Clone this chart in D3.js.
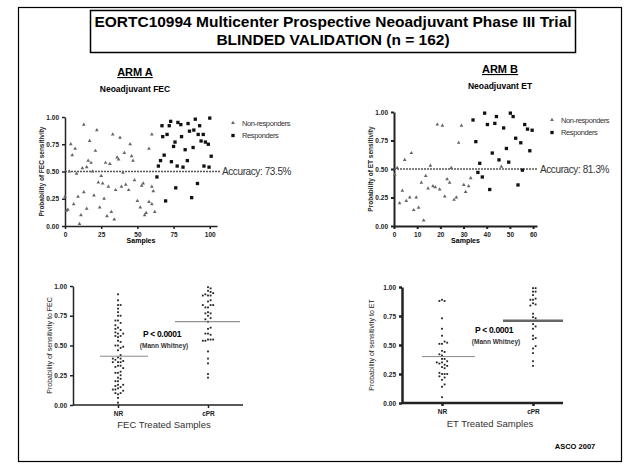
<!DOCTYPE html>
<html>
<head>
<meta charset="utf-8">
<style>
  body { margin: 0; background: #fff; }
  svg { display: block; font-family: "Liberation Sans", Arial, sans-serif; }
  .axis path, .axis line { stroke: #222; }
  .axis text { font-size: 6.5px; fill: #222; font-weight: bold; }
</style>
</head>
<body>
<div id="chart"></div>
<script src="https://cdn.jsdelivr.net/npm/d3@7"></script>
<script>
// ARM A (FEC) - sample index and probability
const aNrSample = [13, 4, 5, 7, 17, 22, 21, 16, 18, 15, 12, 3, 8, 19, 28, 31, 33, 38, 36, 37, 41, 45, 46, 47, 40,
  25, 23, 26, 30, 35, 39, 42, 44, 48, 53, 54, 60, 61, 58, 60, 1, 2, 6, 9, 13, 15, 20, 24, 27, 29, 32, 34, 11, 10,
  50, 52, 55, 56, 58, 60, 62, 0];
const aNrProb = [0.93, 0.75, 0.65, 0.71, 0.78, 0.88, 0.69, 0.60, 0.58, 0.54, 0.53, 0.50, 0.48, 0.50, 0.58, 0.57,
  0.84, 0.81, 0.63, 0.61, 0.67, 0.75, 0.64, 0.60, 0.49, 0.46, 0.40, 0.39, 0.36, 0.33, 0.36, 0.38, 0.33, 0.42,
  0.37, 0.39, 0.36, 0.32, 0.71, 0.84, 0.14, 0.15, 0.20, 0.27, 0.31, 0.16, 0.28, 0.17, 0.25, 0.09, 0.13, 0.06,
  0.10, 0.02, 0.23, 0.17, 0.10, 0.12, 0.22, 0.20, 0.13, 0.27];
const aRSample = [67, 72, 73, 78, 80, 85, 90, 93, 100, 67.5, 70.5, 80.5, 86, 89, 92, 95.5, 94, 97, 99, 76, 75,
  83, 88.5, 101, 68.5, 66, 73.5, 84.5, 64.5, 77.5, 81.5, 96, 99.5, 63.5, 76.5, 91.5, 69.5, 87.5];
const aRProb = [0.92, 0.92, 0.96, 0.95, 0.93, 0.94, 0.98, 0.92, 0.99, 0.82, 0.84, 0.82, 0.87, 0.88, 0.84, 0.84,
  0.78, 0.77, 0.75, 0.77, 0.73, 0.70, 0.72, 0.64, 0.65, 0.60, 0.59, 0.60, 0.55, 0.55, 0.54, 0.55, 0.54, 0.45,
  0.35, 0.39, 0.23, 0.26];

// ARM B (ET)
const bNrSample = [0.3, 1.4, 2.4, 3.6, 4.6, 5.3, 6.8, 7.5, 8.5, 9.6, 10.6, 11.8, 12.8, 13.7, 14.7, 15.7, 16.8,
  17.8, 18.7, 19.7, 20.9, 21.9, 22.9, 24, 24.7, 25.9, 26.9, 27.9, 29.1, 30.1, 30.9, 32.2, 33.1, 46.3];
const bNrProb = [0.45, 0.51, 0.20, 0.31, 0.58, 0.22, 0.25, 0.64, 0.14, 0.25, 0.16, 0.38, 0.05, 0.44, 0.33, 0.53,
  0.35, 0.34, 0.89, 0.32, 0.88, 0.26, 0.41, 0.38, 0.51, 0.23, 0.25, 0.73, 0.88, 0.36, 0.30, 0.35, 0.42, 0.52];
const bRSample = [34.1, 35.3, 37, 36.2, 38.1, 39.1, 40.3, 41.3, 42.4, 43.5, 44.2, 45.3, 47.3, 48.5, 49.5, 50.2,
  51.4, 52.5, 53.5, 54.7, 55.4, 56.4, 57.6, 58.6, 59.6];
const bRProb = [0.93, 0.74, 0.55, 0.47, 0.43, 0.99, 0.89, 0.32, 0.64, 0.90, 0.96, 0.58, 0.86, 0.68, 0.56, 0.99,
  0.96, 0.77, 0.36, 0.73, 0.49, 0.89, 0.85, 0.66, 0.84];

const groups = ["NR", "cPR"];
const aMeans = [0.41, 0.70];
const bMeans = [0.40, 0.71];
const probTicks = [0, 0.25, 0.5, 0.75, 1];
const aSampleTicks = [0, 25, 50, 75, 100];
const bSampleTicks = [0, 10, 20, 30, 40, 50, 60];
const accuracy = ["Accuracy: 73.5%", "Accuracy: 81.3%"];

const W = 641, H = 471;
const svg = d3.select("#chart").append("svg").attr("width", W).attr("height", H);
svg.append("rect").attr("width", W).attr("height", H).attr("fill", "#fff");

// slide frame and title box
svg.append("rect").attr("x", 18.5).attr("y", 7.5).attr("width", 603).attr("height", 454)
  .attr("fill", "none").attr("stroke", "#000").attr("stroke-width", 1.2);
svg.append("rect").attr("x", 90.5).attr("y", 10.5).attr("width", 485).attr("height", 42)
  .attr("fill", "none").attr("stroke", "#000").attr("stroke-width", 1.5);
svg.append("text").attr("x", 333).attr("y", 27).attr("text-anchor", "middle")
  .attr("font-size", 15.5).attr("font-weight", "bold")
  .text("EORTC10994 Multicenter Prospective Neoadjuvant Phase III Trial");
svg.append("text").attr("x", 333).attr("y", 45).attr("text-anchor", "middle")
  .attr("font-size", 15.5).attr("font-weight", "bold")
  .text("BLINDED VALIDATION (n = 162)");

function armTitle(x, y, arm, sub) {
  svg.append("text").attr("x", x).attr("y", y).attr("text-anchor", "middle")
    .attr("font-size", 11).attr("font-weight", "bold").attr("text-decoration", "underline").text(arm);
  svg.append("text").attr("x", x).attr("y", y + 16).attr("text-anchor", "middle")
    .attr("font-size", 8.5).attr("font-weight", "bold").text(sub);
}
armTitle(135, 76, "ARM A", "Neoadjuvant FEC");
armTitle(500, 73, "ARM B", "Neoadjuvant ET");

const tri = d3.symbol().type(d3.symbolTriangle).size(6);
const sq = d3.symbol().type(d3.symbolSquare).size(11);

function scatter(o) {
  const x = d3.scaleLinear().domain(o.xDom).range(o.xRange);
  const y = d3.scaleLinear().domain([0, 1]).range(o.yRange);
  const g = svg.append("g");

  g.append("g").attr("class", "axis").attr("transform", `translate(0,${o.yRange[0]})`)
    .call(d3.axisBottom(x).tickValues(o.xTicks).tickSize(3).tickSizeOuter(0))
    .call(s => s.selectAll("path,line").attr("stroke-width", o.axisW));
  g.append("g").attr("class", "axis").attr("transform", `translate(${o.xRange[0]},0)`)
    .call(d3.axisLeft(y).tickValues(probTicks).tickFormat(d3.format(".2f")).tickSize(3).tickSizeOuter(0))
    .call(s => s.selectAll("path,line").attr("stroke-width", o.axisW));

  // 0.5 cut-off
  g.append("line").attr("x1", o.xRange[0]).attr("x2", o.cutEnd)
    .attr("y1", y(0.5)).attr("y2", y(0.5))
    .attr("stroke", "#555").attr("stroke-width", 1.6).attr("stroke-dasharray", "2,1");
  g.append("text").attr("x", o.cutEnd + 2).attr("y", y(0.5) + 3.5)
    .attr("font-size", 10).attr("letter-spacing", -0.4).attr("fill", "#333").text(o.acc);

  g.selectAll(".nr").data(o.nrS).join("path")
    .attr("transform", (d, i) => `translate(${x(d)},${y(o.nrP[i])})`)
    .attr("d", tri).attr("fill", "#666");
  g.selectAll(".r").data(o.rS).join("path")
    .attr("transform", (d, i) => `translate(${x(d)},${y(o.rP[i])})`)
    .attr("d", sq).attr("fill", "#111");

  // legend
  g.append("path").attr("transform", `translate(${o.leg[0]},${o.leg[1]})`).attr("d", tri).attr("fill", "#666");
  g.append("path").attr("transform", `translate(${o.leg[0]},${o.leg[1] + 12.5})`).attr("d", sq).attr("fill", "#111");
  g.append("text").attr("x", o.leg[0] + 9).attr("y", o.leg[1] + 2.5).attr("font-size", 7.5)
    .attr("letter-spacing", -0.4).attr("fill", "#333").text("Non-responders");
  g.append("text").attr("x", o.leg[0] + 9).attr("y", o.leg[1] + 15).attr("font-size", 7.5)
    .attr("letter-spacing", -0.4).attr("fill", "#333").text("Responders");

  g.append("text").attr("x", (o.xRange[0] + o.xRange[1]) / 2).attr("y", o.yRange[0] + 17)
    .attr("text-anchor", "middle").attr("font-size", 7).attr("font-weight", "bold").text("Samples");
  g.append("text").attr("transform", `translate(${o.yTitleX},${(o.yRange[0] + o.yRange[1]) / 2}) rotate(-90)`)
    .attr("text-anchor", "middle").attr("font-size", 6.5).attr("font-weight", "bold").attr("fill", "#222")
    .text(o.yTitle);
}

scatter({ xDom: [0, 105], xRange: [65, 217], yRange: [226, 117], xTicks: aSampleTicks, axisW: 1.5,
  nrS: aNrSample, nrP: aNrProb, rS: aRSample, rP: aRProb, cutEnd: 220, acc: accuracy[0],
  leg: [233, 123], yTitle: "Probability of FEC sensitivity", yTitleX: 44 });
scatter({ xDom: [0, 61.7], xRange: [394, 537], yRange: [226, 112], xTicks: bSampleTicks, axisW: 2,
  nrS: bNrSample, nrP: bNrProb, rS: bRSample, rP: bRProb, cutEnd: 538, acc: accuracy[1],
  leg: [552, 120], yTitle: "Probability of ET sensitivity", yTitleX: 373 });

// simple swarm layout: spread points horizontally so they don't overlap
function swarm(vals, y, gap) {
  const placed = [];
  return vals.map(v => {
    const py = y(v);
    let k = 0, off = 0;
    while (true) {
      off = k === 0 ? 0 : (k % 2 ? 1 : -1) * Math.ceil(k / 2) * gap;
      if (!placed.some(p => Math.abs(p[0] - off) < gap && Math.abs(p[1] - py) < gap)) break;
      k++;
    }
    placed.push([off, py]);
    return [off, py];
  });
}

function dotPlot(o) {
  const x = d3.scalePoint().domain(groups).range(o.xPos);
  const y = d3.scaleLinear().domain([0, 1]).range(o.yRange);
  const g = svg.append("g");

  g.append("g").attr("class", "axis").attr("transform", `translate(${o.axisX},0)`)
    .call(d3.axisLeft(y).tickValues(probTicks).tickFormat(d3.format(".2f")).tickSize(3).tickSizeOuter(0))
    .call(s => s.selectAll("path,line").attr("stroke-width", o.axisW))
    .call(s => s.selectAll("text").attr("font-size", 7));
  g.append("g").attr("class", "axis").attr("transform", `translate(0,${o.yRange[0]})`)
    .call(d3.axisBottom(x).tickSize(3).tickSizeOuter(0))
    .call(s => s.select(".domain").remove())
    .call(s => s.selectAll("line").attr("stroke-width", o.axisW))
    .call(s => s.selectAll("text").attr("font-size", 7));
  g.append("line").attr("x1", o.axisX).attr("x2", o.axisEnd)
    .attr("y1", o.yRange[0]).attr("y2", o.yRange[0]).attr("stroke", "#222").attr("stroke-width", o.axisW);

  [o.nr, o.r].forEach((vals, gi) => {
    const cx = x(groups[gi]);
    g.selectAll(null).data(swarm(vals, y, 2.6)).join("rect")
      .attr("x", d => cx + d[0] - 0.9).attr("y", d => d[1] - 0.9)
      .attr("width", 1.8).attr("height", 1.8).attr("fill", "#222");
    g.append("line").attr("x1", o.meanX[gi][0]).attr("x2", o.meanX[gi][1])
      .attr("y1", y(o.means[gi])).attr("y2", y(o.means[gi]))
      .attr("stroke", o.meanC[gi]).attr("stroke-width", o.meanW[gi]);
  });

  g.append("text").attr("x", o.pPos[0]).attr("y", o.pPos[1]).attr("text-anchor", "middle")
    .attr("font-size", 8.5).attr("font-weight", "bold").attr("letter-spacing", -0.3).text("P < 0.0001");
  g.append("text").attr("x", o.pPos[0] + 2).attr("y", o.pPos[1] + 11).attr("text-anchor", "middle")
    .attr("font-size", 6.5).attr("font-weight", "bold").attr("fill", "#333").text("(Mann Whitney)");
  g.append("text").attr("x", o.xTitle[0]).attr("y", o.xTitle[1]).attr("text-anchor", "middle")
    .attr("font-size", 9.5).attr("fill", "#333").text(o.xLabel);
  g.append("text").attr("transform", `translate(${o.yTitleX},${(o.yRange[0] + o.yRange[1]) / 2}) rotate(-90)`)
    .attr("text-anchor", "middle").attr("font-size", 7).attr("fill", "#222").text(o.yTitle);
}

dotPlot({ xPos: [118, 208], yRange: [405, 286], axisX: 73, axisEnd: 243, axisW: 1.5,
  nr: aNrProb, r: aRProb, means: aMeans, meanX: [[100, 148], [175, 240]], meanC: ["#888", "#777"], meanW: [1, 1],
  pPos: [162, 337], xTitle: [164, 428], xLabel: "FEC Treated Samples",
  yTitle: "Probability of sensitivity to FEC", yTitleX: 52 });
dotPlot({ xPos: [442, 533], yRange: [403, 287], axisX: 402, axisEnd: 563, axisW: 2.5,
  nr: bNrProb, r: bRProb, means: bMeans, meanX: [[422, 475], [503, 563]], meanC: ["#888", "#666"], meanW: [1, 2.5],
  pPos: [494, 333], xTitle: [490, 427], xLabel: "ET Treated Samples",
  yTitle: "Probability of sensitivity to ET", yTitleX: 374 });

svg.append("text").attr("x", 575).attr("y", 449).attr("text-anchor", "middle")
  .attr("font-size", 7.5).attr("font-weight", "bold").text("ASCO 2007");
</script>
</body>
</html>
